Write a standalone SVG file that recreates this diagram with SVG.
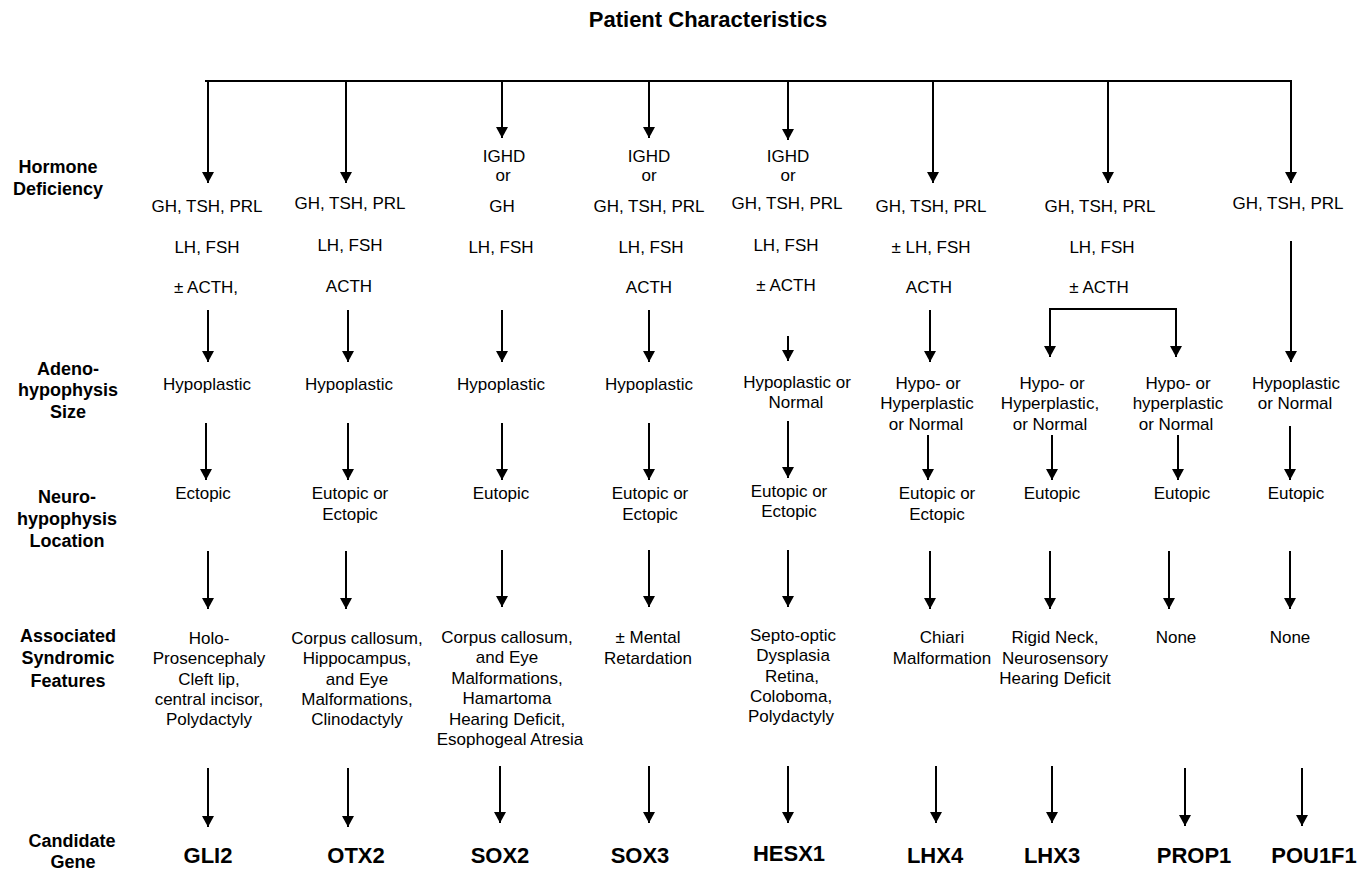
<svg xmlns="http://www.w3.org/2000/svg" width="1370" height="871" viewBox="0 0 1370 871">
<defs>
<marker id="ah" viewBox="0 0 11 12" refX="11" refY="6" markerWidth="11" markerHeight="12" markerUnits="userSpaceOnUse" orient="auto">
<path d="M0,0 L11,6 L0,12 z" fill="#000"/>
</marker>
<style>
text{font-family:"Liberation Sans",Arial,sans-serif;fill:#000;text-anchor:middle}
.t{font-size:22px;font-weight:bold}
.lab{font-size:18px;font-weight:bold}
.b{font-size:17px}
.g{font-size:22px;font-weight:bold}
.c line,.c path{stroke:#000;stroke-width:2;fill:none}
.c .a{marker-end:url(#ah)}
</style>
</defs>
<rect width="1370" height="871" fill="#fff"/>

<g id="title"><text class="t" x="708" y="27">Patient Characteristics</text></g>

<g id="label-hormone" class="lab"><text class="lab" x="58" y="173">Hormone</text><text class="lab" x="58" y="195">Deficiency</text></g>
<g id="label-adeno"><text class="lab" x="68" y="375">Adeno-</text><text class="lab" x="68" y="396">hypophysis</text><text class="lab" x="68" y="418">Size</text></g>
<g id="label-neuro"><text class="lab" x="67" y="503">Neuro-</text><text class="lab" x="67" y="525">hypophysis</text><text class="lab" x="67" y="547">Location</text></g>
<g id="label-assoc"><text class="lab" x="68" y="642">Associated</text><text class="lab" x="68" y="664">Syndromic</text><text class="lab" x="68" y="687">Features</text></g>
<g id="label-gene"><text class="lab" x="72" y="847">Candidate</text><text class="lab" x="73" y="868">Gene</text></g>

<g class="c" id="connectors">
<line x1="205" y1="81" x2="1292" y2="81"/>
<!-- row 1 -->
<line class="a" x1="208" y1="81" x2="208" y2="183"/>
<line class="a" x1="346" y1="81" x2="346" y2="183"/>
<line class="a" x1="502" y1="81" x2="502" y2="138"/>
<line class="a" x1="649" y1="81" x2="649" y2="138"/>
<line class="a" x1="788" y1="81" x2="788" y2="140"/>
<line class="a" x1="933" y1="81" x2="933" y2="183"/>
<line class="a" x1="1108" y1="81" x2="1108" y2="183"/>
<line class="a" x1="1291" y1="81" x2="1291" y2="183"/>
<!-- row 2 -->
<line class="a" x1="208" y1="310" x2="208" y2="362"/>
<line class="a" x1="348" y1="310" x2="348" y2="362"/>
<line class="a" x1="502" y1="310" x2="502" y2="362"/>
<line class="a" x1="649" y1="310" x2="649" y2="362"/>
<line class="a" x1="788" y1="336" x2="788" y2="361"/>
<line class="a" x1="930" y1="310" x2="930" y2="362"/>
<path class="a" d="M1114,309 H1050 V357"/>
<path class="a" d="M1114,309 H1176 V357"/>
<line class="a" x1="1291" y1="241" x2="1291" y2="362"/>
<!-- row 3 -->
<line class="a" x1="206" y1="423" x2="206" y2="480"/>
<line class="a" x1="348" y1="423" x2="348" y2="480"/>
<line class="a" x1="502" y1="423" x2="502" y2="480"/>
<line class="a" x1="649" y1="423" x2="649" y2="480"/>
<line class="a" x1="788" y1="421" x2="788" y2="478"/>
<line class="a" x1="928" y1="435" x2="928" y2="480"/>
<line class="a" x1="1052" y1="435" x2="1052" y2="480"/>
<line class="a" x1="1178" y1="435" x2="1178" y2="480"/>
<line class="a" x1="1290" y1="426" x2="1290" y2="480"/>
<!-- row 4 -->
<line class="a" x1="208" y1="551" x2="208" y2="609"/>
<line class="a" x1="346" y1="551" x2="346" y2="609"/>
<line class="a" x1="502" y1="550" x2="502" y2="607"/>
<line class="a" x1="649" y1="550" x2="649" y2="607"/>
<line class="a" x1="788" y1="550" x2="788" y2="607"/>
<line class="a" x1="930" y1="551" x2="930" y2="609"/>
<line class="a" x1="1050" y1="551" x2="1050" y2="609"/>
<line class="a" x1="1169" y1="551" x2="1169" y2="609"/>
<line class="a" x1="1290" y1="551" x2="1290" y2="609"/>
<!-- row 5 -->
<line class="a" x1="208" y1="768" x2="208" y2="827"/>
<line class="a" x1="348" y1="768" x2="348" y2="827"/>
<line class="a" x1="500" y1="766" x2="500" y2="823"/>
<line class="a" x1="649" y1="766" x2="649" y2="823"/>
<line class="a" x1="788" y1="766" x2="788" y2="823"/>
<line class="a" x1="936" y1="766" x2="936" y2="823"/>
<line class="a" x1="1052" y1="766" x2="1052" y2="823"/>
<line class="a" x1="1185" y1="768" x2="1185" y2="826"/>
<line class="a" x1="1302" y1="768" x2="1302" y2="826"/>
</g>

<!-- Hormone deficiency row -->
<g id="hd-gli2"><text class="b" x="207" y="212">GH, TSH, PRL</text><text class="b" x="207" y="253">LH, FSH</text><text class="b" x="206" y="293">± ACTH,</text></g>
<g id="hd-otx2"><text class="b" x="350" y="209">GH, TSH, PRL</text><text class="b" x="350" y="251">LH, FSH</text><text class="b" x="349" y="292">ACTH</text></g>
<g id="hd-sox2"><text class="b" x="504" y="162">IGHD</text><text class="b" x="503" y="181">or</text><text class="b" x="502" y="212">GH</text><text class="b" x="501" y="253">LH, FSH</text></g>
<g id="hd-sox3"><text class="b" x="649" y="162">IGHD</text><text class="b" x="649" y="181">or</text><text class="b" x="649" y="212">GH, TSH, PRL</text><text class="b" x="651" y="253">LH, FSH</text><text class="b" x="649" y="293">ACTH</text></g>
<g id="hd-hesx1"><text class="b" x="788" y="162">IGHD</text><text class="b" x="788" y="181">or</text><text class="b" x="787" y="209">GH, TSH, PRL</text><text class="b" x="786" y="251">LH, FSH</text><text class="b" x="786" y="291">± ACTH</text></g>
<g id="hd-lhx4"><text class="b" x="931" y="212">GH, TSH, PRL</text><text class="b" x="931" y="253">± LH, FSH</text><text class="b" x="929" y="293">ACTH</text></g>
<g id="hd-lhx3"><text class="b" x="1100" y="212">GH, TSH, PRL</text><text class="b" x="1102" y="253">LH, FSH</text><text class="b" x="1099" y="293">± ACTH</text></g>
<g id="hd-pou1f1"><text class="b" x="1288" y="209">GH, TSH, PRL</text></g>

<!-- Adenohypophysis size row -->
<g id="as-gli2"><text class="b" x="207" y="390">Hypoplastic</text></g>
<g id="as-otx2"><text class="b" x="349" y="390">Hypoplastic</text></g>
<g id="as-sox2"><text class="b" x="501" y="390">Hypoplastic</text></g>
<g id="as-sox3"><text class="b" x="649" y="390">Hypoplastic</text></g>
<g id="as-hesx1"><text class="b" x="797" y="388">Hypoplastic or</text><text class="b" x="796" y="408">Normal</text></g>
<g id="as-lhx4"><text class="b" x="928" y="389">Hypo- or</text><text class="b" x="927" y="409">Hyperplastic</text><text class="b" x="926" y="430">or Normal</text></g>
<g id="as-lhx3"><text class="b" x="1052" y="389">Hypo- or</text><text class="b" x="1050" y="409">Hyperplastic,</text><text class="b" x="1050" y="430">or Normal</text></g>
<g id="as-prop1"><text class="b" x="1178" y="389">Hypo- or</text><text class="b" x="1178" y="409">hyperplastic</text><text class="b" x="1176" y="430">or Normal</text></g>
<g id="as-pou1f1"><text class="b" x="1296" y="389">Hypoplastic</text><text class="b" x="1295" y="409">or Normal</text></g>

<!-- Neurohypophysis location row -->
<g id="nl-gli2"><text class="b" x="203" y="499">Ectopic</text></g>
<g id="nl-otx2"><text class="b" x="350" y="499">Eutopic or</text><text class="b" x="350" y="520">Ectopic</text></g>
<g id="nl-sox2"><text class="b" x="501" y="499">Eutopic</text></g>
<g id="nl-sox3"><text class="b" x="650" y="499">Eutopic or</text><text class="b" x="650" y="520">Ectopic</text></g>
<g id="nl-hesx1"><text class="b" x="789" y="497">Eutopic or</text><text class="b" x="789" y="517">Ectopic</text></g>
<g id="nl-lhx4"><text class="b" x="937" y="499">Eutopic or</text><text class="b" x="937" y="520">Ectopic</text></g>
<g id="nl-lhx3"><text class="b" x="1052" y="499">Eutopic</text></g>
<g id="nl-prop1"><text class="b" x="1182" y="499">Eutopic</text></g>
<g id="nl-pou1f1"><text class="b" x="1296" y="499">Eutopic</text></g>

<!-- Associated syndromic features row -->
<g id="sf-gli2"><text class="b" x="209" y="644">Holo-</text><text class="b" x="209" y="664">Prosencephaly</text><text class="b" x="209" y="685">Cleft lip,</text><text class="b" x="209" y="705">central incisor,</text><text class="b" x="209" y="725">Polydactyly</text></g>
<g id="sf-otx2"><text class="b" x="357" y="644">Corpus callosum,</text><text class="b" x="357" y="664">Hippocampus,</text><text class="b" x="357" y="685">and Eye</text><text class="b" x="357" y="705">Malformations,</text><text class="b" x="357" y="725">Clinodactyly</text></g>
<g id="sf-sox2"><text class="b" x="507" y="643">Corpus callosum,</text><text class="b" x="507" y="663">and Eye</text><text class="b" x="507" y="684">Malformations,</text><text class="b" x="507" y="704">Hamartoma</text><text class="b" x="507" y="725">Hearing Deficit,</text><text class="b" x="510" y="745">Esophogeal Atresia</text></g>
<g id="sf-sox3"><text class="b" x="648" y="643">± Mental</text><text class="b" x="648" y="664">Retardation</text></g>
<g id="sf-hesx1"><text class="b" x="793" y="641">Septo-optic</text><text class="b" x="793" y="661">Dysplasia</text><text class="b" x="792" y="682">Retina,</text><text class="b" x="791" y="702">Coloboma,</text><text class="b" x="791" y="722">Polydactyly</text></g>
<g id="sf-lhx4"><text class="b" x="942" y="643">Chiari</text><text class="b" x="942" y="664">Malformation</text></g>
<g id="sf-lhx3"><text class="b" x="1055" y="643">Rigid Neck,</text><text class="b" x="1055" y="664">Neurosensory</text><text class="b" x="1055" y="684">Hearing Deficit</text></g>
<g id="sf-prop1"><text class="b" x="1176" y="643">None</text></g>
<g id="sf-pou1f1"><text class="b" x="1290" y="643">None</text></g>

<!-- Candidate genes -->
<g id="gene-gli2"><text class="g" x="208" y="863">GLI2</text></g>
<g id="gene-otx2"><text class="g" x="356" y="863">OTX2</text></g>
<g id="gene-sox2"><text class="g" x="500" y="863">SOX2</text></g>
<g id="gene-sox3"><text class="g" x="640" y="863">SOX3</text></g>
<g id="gene-hesx1"><text class="g" x="789" y="861">HESX1</text></g>
<g id="gene-lhx4"><text class="g" x="935" y="863">LHX4</text></g>
<g id="gene-lhx3"><text class="g" x="1052" y="863">LHX3</text></g>
<g id="gene-prop1"><text class="g" x="1194" y="863">PROP1</text></g>
<g id="gene-pou1f1"><text class="g" x="1314" y="863">POU1F1</text></g>
</svg>
